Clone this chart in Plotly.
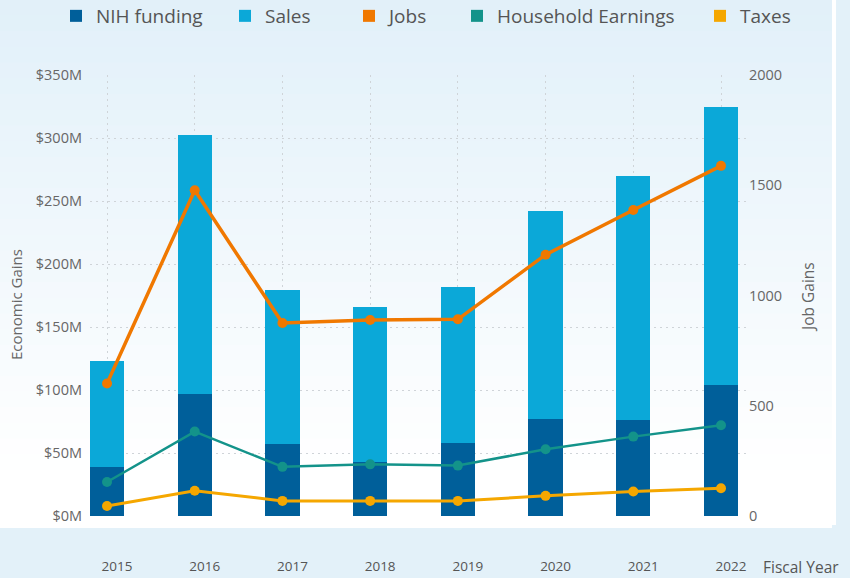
import plotly.graph_objects as go

# ─── Data ─────────────────────────────────────────────────────────────────────
years = ["2015", "2016", "2017", "2018", "2019", "2020", "2021", "2022"]
nih_funding = [39, 97, 57, 43, 58, 77, 76, 104]            # $M
sales = [84, 205, 122, 123, 124, 165, 194, 221]             # $M, stacked on NIH
household_earnings = [27, 67, 39, 41, 40, 53, 63, 72]       # $M
taxes = [8, 20, 12, 12, 12, 16, 19.5, 22]                   # $M
jobs = [601, 1477, 875, 889, 892, 1185, 1388, 1588]         # job gains

econ_ticks = [0, 50, 100, 150, 200, 250, 300, 350]
econ_labels = ["$0M", "$50M", "$100M", "$150M", "$200M", "$250M", "$300M", "$350M"]
job_ticks = [0, 500, 1000, 1500, 2000]

# ─── Theme ────────────────────────────────────────────────────────────────────
NIH_CLR = "#005f9a"
SALES_CLR = "#0ba8d8"
JOBS_CLR = "#f07800"
HH_CLR = "#13938a"
TAX_CLR = "#f5a700"
TEXT_CLR = "#666666"
GRID_CLR = "#cfd4d8"
BAND_CLR = "#e3f1f9"
FONT = "Open Sans"

W, H = 850, 578
ML, MR, MT, MB = 90, 104, 75, 62
PW, PH = W - ML - MR, H - MT - MB


def px_x(p):
    return (p - ML) / PW


def px_y(p):
    return (H - MB - p) / PH


fig = go.Figure()

fig.add_trace(go.Bar(x=years, y=nih_funding, name="NIH funding", legend="legend",
                     marker=dict(color=NIH_CLR, line_width=0), width=0.39))
fig.add_trace(go.Bar(x=years, y=sales, name="Sales", legend="legend2",
                     marker=dict(color=SALES_CLR, line_width=0), width=0.39))

# legend proxies so every entry shows a square, like the original
proxies = [("Jobs", JOBS_CLR, "legend3"),
           ("Household Earnings", HH_CLR, "legend4"),
           ("Taxes", TAX_CLR, "legend5")]
for name, clr, lg in proxies:
    fig.add_trace(go.Bar(x=[None], y=[None], name=name, legendgroup=name, legend=lg,
                         marker=dict(color=clr, line_width=0)))

fig.add_trace(go.Scatter(x=years, y=household_earnings, mode="lines+markers",
                         name="Household Earnings", legendgroup="Household Earnings",
                         showlegend=False, line=dict(color=HH_CLR, width=2.5),
                         marker=dict(size=10, color=HH_CLR)))
fig.add_trace(go.Scatter(x=years, y=taxes, mode="lines+markers",
                         name="Taxes", legendgroup="Taxes", showlegend=False,
                         line=dict(color=TAX_CLR, width=3),
                         marker=dict(size=10, color=TAX_CLR)))
fig.add_trace(go.Scatter(x=years, y=jobs, mode="lines+markers", yaxis="y2",
                         name="Jobs", legendgroup="Jobs", showlegend=False,
                         line=dict(color=JOBS_CLR, width=3.5),
                         marker=dict(size=10, color=JOBS_CLR)))

# ─── Background: soft vertical gradient + bottom band ────────────────────────
shapes = []
n = 30
top_c = (0xe1, 0xf0, 0xf9)
grad_end = 470
for i in range(n):
    y0 = grad_end * i / n
    y1 = grad_end * (i + 1) / n + 1
    t = (i + 0.5) / n
    c = tuple(int(round(a + (255 - a) * t)) for a in top_c)
    shapes.append(dict(type="rect", xref="paper", yref="paper", layer="below",
                       x0=px_x(0), x1=px_x(832), y0=px_y(y1), y1=px_y(y0),
                       fillcolor="rgb(%d,%d,%d)" % c, line_width=0))
shapes.append(dict(type="rect", xref="paper", yref="paper", layer="below",
                   x0=px_x(0), x1=px_x(832), y0=px_y(528), y1=px_y(grad_end),
                   fillcolor="#ffffff", line_width=0))
shapes.append(dict(type="rect", xref="paper", yref="paper", layer="below",
                   x0=px_x(832), x1=px_x(836), y0=px_y(525), y1=px_y(0),
                   fillcolor="#ffffff", line_width=0))


def legend_at(cx):
    return dict(orientation="h", x=px_x(cx - 21), xanchor="left",
                y=px_y(16), yanchor="middle", bgcolor="rgba(0,0,0,0)",
                font=dict(size=19, color="#555555"), itemwidth=30)


fig.update_layout(
    width=W, height=H,
    paper_bgcolor=BAND_CLR,
    plot_bgcolor="rgba(0,0,0,0)",
    font=dict(family=FONT, color=TEXT_CLR, size=13),
    margin=dict(l=ML, r=MR, t=MT, b=MB, autoexpand=False),
    barmode="stack",
    shapes=shapes,
    showlegend=True,
    legend=legend_at(77),
    legend2=legend_at(246),
    legend3=legend_at(370),
    legend4=legend_at(478),
    legend5=legend_at(721),
    xaxis=dict(type="category", range=[-0.194, 7.285],
               showgrid=True, gridcolor=GRID_CLR, griddash="2px,4px", gridwidth=1,
               zeroline=False, showline=False, ticks="",
               ticklabelstandoff=40, ticklabelshift=10,
               tickfont=dict(size=13.5, color="#555555")),
    yaxis=dict(range=[0, 350], tickvals=econ_ticks, ticktext=econ_labels,
               showgrid=True, gridcolor=GRID_CLR, griddash="2px,4px", gridwidth=1,
               zeroline=False, showline=False, ticks="", ticklabelstandoff=7,
               tickfont=dict(size=14.5, color=TEXT_CLR)),
    yaxis2=dict(range=[0, 2000], tickvals=job_ticks, overlaying="y", side="right",
                showgrid=False, zeroline=False, showline=False, ticks="",
                ticklabelstandoff=2,
                tickfont=dict(size=14.5, color=TEXT_CLR)),
)

# axis titles placed where the original has them
fig.add_annotation(text="Economic Gains", xref="paper", yref="paper",
                   x=px_x(16), y=px_y(305), textangle=-90, showarrow=False,
                   xanchor="center", yanchor="middle",
                   font=dict(size=15, color=TEXT_CLR))
fig.add_annotation(text="Job Gains", xref="paper", yref="paper",
                   x=px_x(808), y=px_y(297), textangle=-90, showarrow=False,
                   xanchor="center", yanchor="middle",
                   font=dict(size=15.5, color=TEXT_CLR))
fig.add_annotation(text="Fiscal Year", xref="paper", yref="paper",
                   x=px_x(761), y=px_y(567), xanchor="left", yanchor="middle",
                   showarrow=False, font=dict(size=15.5, color="#555555"))

# drop the page's default body margin so the figure sits at the window's corner
fig.write_html("out.html", config={"displayModeBar": False},
               post_script="document.body.style.margin = '0';")
